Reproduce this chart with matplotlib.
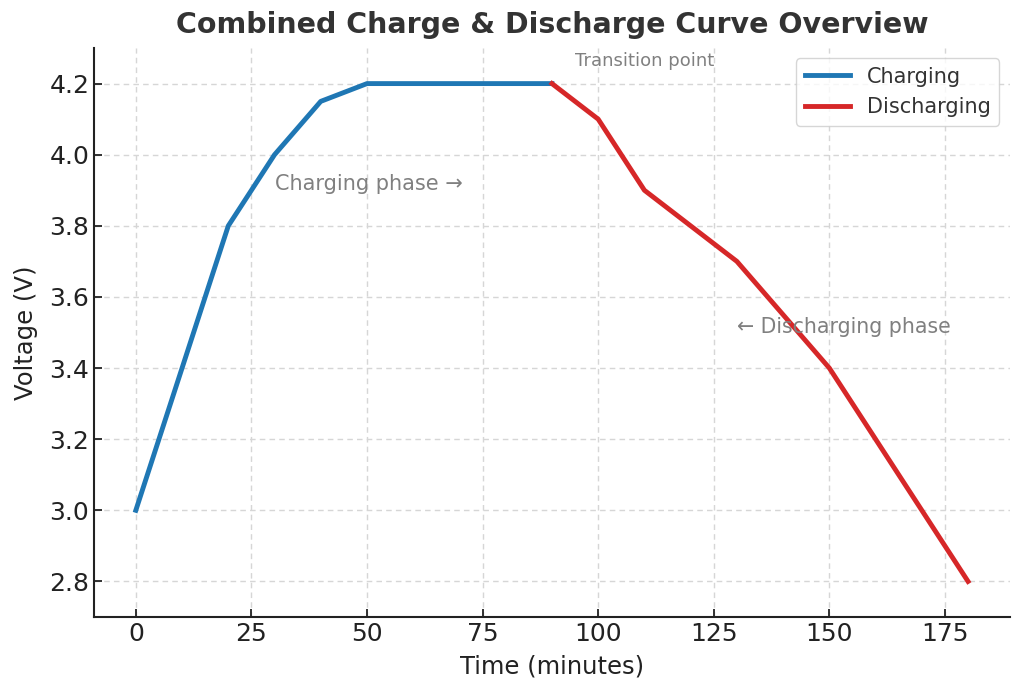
import matplotlib
matplotlib.use('Agg')
import matplotlib.pyplot as plt

# charging curve data
charge_time = [0, 20, 30, 40, 50, 60, 70, 80, 90]
charge_volt = [3.0, 3.8, 4.0, 4.15, 4.2, 4.2, 4.2, 4.2, 4.2]

# discharging curve data
discharge_time = [90, 100, 110, 120, 130, 140, 150, 160, 170, 180]
discharge_volt = [4.2, 4.1, 3.9, 3.8, 3.7, 3.55, 3.4, 3.2, 3.0, 2.8]

plt.rcParams['font.family'] = ['DejaVu Sans']
fig, ax = plt.subplots(figsize=(10.24, 6.96), dpi=100)
fig.subplots_adjust(left=0.092, right=0.986, top=0.931, bottom=0.1135)

ax.plot(charge_time, charge_volt, color='#1f77b4', linewidth=3.5, label='Charging')
ax.plot(discharge_time, discharge_volt, color='#d62728', linewidth=3.5, label='Discharging')

ax.text(95, 4.25, 'Transition point', fontsize=13, color='gray')
ax.text(30, 3.9, 'Charging phase \u2192', fontsize=15, color='gray')
ax.text(130, 3.5, '\u2190 Discharging phase', fontsize=14.8, color='gray')

ax.set_title('Combined Charge & Discharge Curve Overview', fontsize=20.5,
             fontweight='bold', color='#333333', pad=11)
ax.set_xlabel('Time (minutes)', fontsize=17.5, color='#222222', labelpad=6)
ax.set_ylabel('Voltage (V)', fontsize=17.5, color='#222222', labelpad=8)
ax.set_ylim(2.7, 4.3)
ax.tick_params(labelsize=18, colors='#222222', direction='in', length=6, width=1.3)
ax.grid(True, linestyle=(0, (4, 3)), color='#d6d6d6', linewidth=1)
ax.spines['top'].set_visible(False)
ax.spines['right'].set_visible(False)
for s in ['left', 'bottom']:
    ax.spines[s].set_color('#222222')
    ax.spines[s].set_linewidth(1.5)
ax.legend(fontsize=15, loc='upper right', handlelength=2.2, labelcolor='#333333')

plt.savefig('out.png')
